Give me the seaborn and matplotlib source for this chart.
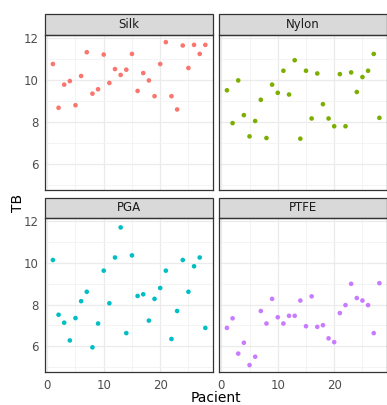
#importing libraries
import pandas as pd
import seaborn as sns
import matplotlib.pyplot as plt
from matplotlib.patches import Rectangle
from matplotlib.ticker import MultipleLocator

#data
materials = ["Silk", "Nylon", "PGA", "PTFE"]
patients = list(range(1, 29))
silk_tb = [10.76, 8.68, 9.78, 9.95, 8.80, 10.19, 11.32, 9.35, 9.56, 11.21,
           9.86, 10.52, 10.24, 10.49, 11.24, 9.48, 10.33, 9.98, 9.23, 10.76,
           11.80, 9.23, 8.60, 11.64, 10.57, 11.67, 11.24, 11.67]
nylon_tb = [9.51, 7.95, 9.98, 8.33, 7.32, 8.05, 9.06, 7.24, 9.78, 9.39,
            10.44, 9.31, 10.94, 7.21, 10.44, 8.17, 10.31, 8.85, 8.17, 7.80,
            10.28, 7.80, 10.36, 9.43, 10.14, 10.44, 11.24, 8.20]
pga_tb = [10.13, 7.51, 7.13, 6.28, 7.35, 8.16, 8.61, 5.95, 7.09, 9.62,
          8.06, 10.25, 11.69, 6.63, 10.35, 8.41, 8.49, 7.23, 8.27, 8.79,
          9.62, 6.35, 7.69, 10.13, 8.61, 9.83, 10.25, 6.88]
ptfe_tb = [6.88, 7.34, 5.65, 6.17, 5.10, 5.50, 7.69, 7.09, 8.27, 7.39,
           7.09, 7.46, 7.46, 8.19, 6.96, 8.39, 6.93, 7.01, 6.38, 6.20,
           7.59, 7.97, 8.99, 8.31, 8.19, 7.97, 6.63, 9.02]
colors = ["#F8766D", "#7CAE00", "#00BFC4", "#C77CFF"]

#building a long dataframe
df = pd.concat([
    pd.DataFrame({"Pacient": patients, "TB": vals, "Material": m})
    for m, vals in zip(materials, [silk_tb, nylon_tb, pga_tb, ptfe_tb])
])

sns.set_style("white")
plt.rcParams['font.family'] = ['DejaVu Sans']

g = sns.relplot(data=df, x="Pacient", y="TB", hue="Material", col="Material",
                col_wrap=2, palette=dict(zip(materials, colors)), s=11,
                linewidth=0, legend=False, height=2, aspect=1)
fig = g.figure
fig.set_size_inches(3.87, 4.05)

#panel positions (ggplot facet_wrap layout)
positions = [[0.117, 0.5309, 0.4333, 0.3827],
             [0.5667, 0.5309, 0.4333, 0.3827],
             [0.117, 0.0815, 0.4333, 0.3802],
             [0.5667, 0.0815, 0.4333, 0.3802]]

for ax, name, pos in zip(g.axes.flat, materials, positions):
    ax.set_position(pos)
    ax.set_xlim(-0.35, 29.35)
    ax.set_ylim(4.77, 12.14)
    ax.xaxis.set_major_locator(MultipleLocator(10))
    ax.xaxis.set_minor_locator(MultipleLocator(5))
    ax.yaxis.set_major_locator(MultipleLocator(2))
    ax.yaxis.set_minor_locator(MultipleLocator(1))
    ax.grid(which="major", color="#EBEBEB", linewidth=0.9)
    ax.grid(which="minor", color="#F2F2F2", linewidth=0.6)
    ax.set_axisbelow(True)
    for s in ax.spines.values():
        s.set_visible(True)
        s.set_color("#333333")
        s.set_linewidth(0.9)
    ax.tick_params(which="major", length=3, width=0.8, color="#333333",
                   labelsize=8.5, labelcolor="#4D4D4D", pad=2)
    ax.tick_params(which="minor", length=0)
    ax.set_title("")
    ax.set_xlabel("")
    ax.set_ylabel("")
    #strip on top of each panel
    strip_h = 20.5 / (pos[3] * 405)
    ax.add_patch(Rectangle((0, 1), 1, strip_h, transform=ax.transAxes,
                           facecolor="#D9D9D9", edgecolor="#333333",
                           linewidth=0.9, clip_on=False))
    ax.text(0.5, 1 + strip_h / 2, name, transform=ax.transAxes, ha="center",
            va="center", fontsize=8.5, color="#1A1A1A")
    if name in ["Silk", "PGA"]:
        ax.tick_params(labelleft=True)
    if name in ["PGA", "PTFE"]:
        ax.tick_params(labelbottom=True)
    else:
        ax.tick_params(which="major", bottom=False, labelbottom=False)
    if name in ["Nylon", "PTFE"]:
        ax.tick_params(which="major", left=False, labelleft=False)

fig.text(0.558, 0.017, "Pacient", ha="center", va="center", fontsize=10, color="black")
fig.text(0.047, 0.5, "TB", ha="center", va="center", rotation=90, fontsize=10, color="black")

fig.savefig("out.png", dpi=100)
